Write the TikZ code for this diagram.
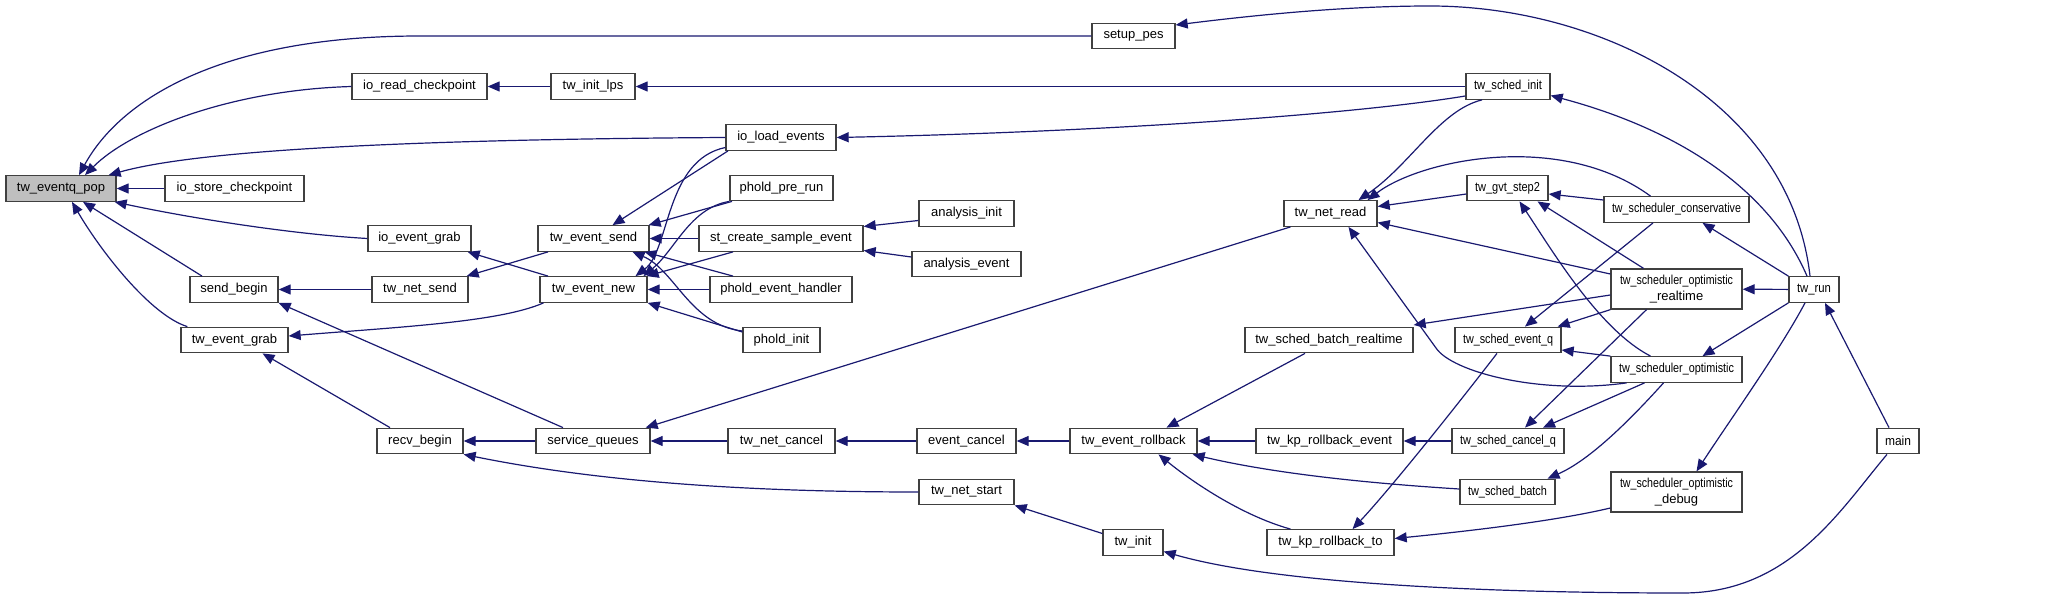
\documentclass[tikz,border=0pt]{standalone}
\usepackage{fontspec}
\usepackage{graphicx}
\setmainfont{Liberation Sans}
\usetikzlibrary{arrows.meta}
\definecolor{edgec}{RGB}{25,25,112}
\newsavebox\lblbox
\newdimen\fitdim
\newcommand\fitt[2]{\fitdim=#1pt\relax\advance\fitdim by -16pt\relax\sbox\lblbox{#2}\ifdim\wd\lblbox>\fitdim\relax\pgfmathsetmacro\fitratio{\fitdim/\wd\lblbox}\scalebox{\fitratio}[1]{\usebox\lblbox}\else\usebox\lblbox\fi}
\newcommand\bx[6][]{\node[box,minimum width=#5pt,#1] (#2) at (#3,#4) {\fitt{#5}{#6}};}
\begin{document}
\begin{tikzpicture}[x=1pt,y=-1pt,
 box/.style={draw=black!75, line width=1.3pt, fill=white, inner sep=0pt, minimum height=25.5pt, align=center, font=\fontsize{13pt}{15.5pt}\selectfont, text=black},
 e/.style={draw=edgec, line width=1.2pt, {Triangle[length=12pt,width=10pt]}-},
]
\useasboundingbox (0,0) rectangle (2045,599);
% nodes
\bx[fill=black!25]{ep}{61}{188.5}{110}{tw\_eventq\_pop}
\bx{isc}{234.5}{188.5}{139}{io\_store\_checkpoint}
\bx{irc}{419.5}{86.5}{135}{io\_read\_checkpoint}
\bx{ieg}{419.5}{238.5}{103}{io\_event\_grab}
\bx{sb}{234}{289.5}{88}{send\_begin}
\bx{teg}{234.5}{340}{107}{tw\_event\_grab}
\bx{rb}{420}{441}{86}{recv\_begin}
\bx{tns}{420}{289.5}{96}{tw\_net\_send}
\bx{til}{593}{86.5}{84}{tw\_init\_lps}
\bx{tes}{593.5}{238.5}{111}{tw\_event\_send}
\bx{ten}{593.5}{289.5}{107}{tw\_event\_new}
\bx{svq}{593}{441}{114}{service\_queues}
\bx{iole}{781}{137.5}{110}{io\_load\_events}
\bx{ppr}{781.5}{188}{103}{phold\_pre\_run}
\bx{stc}{781}{238.5}{164}{st\_create\_sample\_event}
\bx{peh}{781}{289.5}{142}{phold\_event\_handler}
\bx{pi}{781.5}{340}{77}{phold\_init}
\bx{tnc}{781.5}{441}{107}{tw\_net\_cancel}
\bx{ai}{966.5}{213.5}{95}{analysis\_init}
\bx{ae}{966.5}{264}{109}{analysis\_event}
\bx{ec}{966.5}{441}{99}{event\_cancel}
\bx{tnst}{966.5}{492}{95}{tw\_net\_start}
\bx{sp}{1133.5}{36}{83}{setup\_pes}
\bx{tinit}{1133}{542.5}{60}{tw\_init}
\bx{ter}{1133.5}{441}{127}{tw\_event\_rollback}
\bx{tnr}{1330.5}{213.5}{93}{tw\_net\_read}
\bx{tsbr}{1329}{340}{168}{tw\_sched\_batch\_realtime}
\bx{tkre}{1329.5}{441}{147}{tw\_kp\_rollback\_event}
\bx{tkrt}{1330.5}{542.5}{127}{tw\_kp\_rollback\_to}
\bx{tsi}{1508}{86.5}{84}{tw\_sched\_init}
\bx{tgs}{1507.5}{188}{81}{tw\_gvt\_step2}
\bx{tseq}{1508}{340}{106}{tw\_sched\_event\_q}
\bx{tscq}{1508}{441}{112}{tw\_sched\_cancel\_q}
\bx{tsb}{1507.5}{492}{95}{tw\_sched\_batch}
\bx{tsc}{1676.5}{209.5}{145}{tw\_scheduler\_conservative}
\node[box,minimum width=131pt,minimum height=40pt] (tsor) at (1676.5,289) {\fitt{129}{tw\_scheduler\_optimistic}\\\fitt{129}{\_realtime}};
\bx{tso}{1676.5}{369.5}{131}{tw\_scheduler\_optimistic}
\node[box,minimum width=131pt,minimum height=40pt] (tsod) at (1676.5,492) {\fitt{129}{tw\_scheduler\_optimistic}\\\fitt{129}{\_debug}};
\bx{trun}{1814}{289.5}{50}{tw\_run}
\bx{main}{1898}{441}{42}{main}
% edges into tw_eventq_pop
\draw[e] ([xshift=18pt]ep.north) .. controls (120,100) and (220,36) .. (420,36) -- (sp.west);
\draw[e] ([xshift=24pt]ep.north) .. controls (130,130) and (230,90) .. (irc.west);
\draw[e] ([xshift=-8pt]ep.north east) .. controls (170,158) and (300,140) .. (iole.west);
\draw[e] (ep) -- (isc);
\draw[e] ([xshift=-2pt]ep.south east) .. controls (190,218) and (290,234) .. (ieg.west);
\draw[e] ([xshift=22pt]ep.south) -- ([xshift=-32pt]sb.north);
\draw[e] ([xshift=11pt]ep.south) .. controls (100,250) and (150,315) .. ([xshift=7pt]teg.north west);
% second rank
\draw[e] (irc) -- (til);
\draw[e] (til) -- (tsi);
\draw[e] (iole.east) .. controls (1100,132) and (1350,115) .. ([yshift=-9.5pt]tsi.west);
\draw[e] ([yshift=11pt]sp.east) .. controls (1280,12) and (1360,6) .. (1430,6) .. controls (1600,6) and (1790,100) .. ([xshift=-4pt]trun.north);
\draw[e] (sb) -- (tns);
\draw[e] (sb.south east) -- ([xshift=-30pt]svq.north);
\draw[e] ([xshift=-2pt]tns.north east) -- ([xshift=-45.5pt]tes.south);
\draw[e] ([xshift=-4pt]ieg.south east) -- ([xshift=-45.5pt]ten.north);
\draw[e] ([yshift=4pt]teg.east) .. controls (400,327) and (500,322) .. ([xshift=-50pt]ten.south);
\draw[e] ([xshift=28pt]teg.south) -- ([xshift=-30pt]rb.north);
\draw[e] (rb) -- (svq);
\draw[e] (rb.south east) .. controls (580,478) and (720,492) .. (tnst.west);
% tw_event_send / tw_event_new
\draw[e] ([xshift=19pt]tes.north) -- ([xshift=-53pt]iole.south);
\draw[e] ([xshift=-1pt]tes.north east) -- ([xshift=-49.5pt]ppr.south);
\draw[e] (tes) -- (stc);
\draw[e] ([xshift=51pt]tes.south) -- ([xshift=-48pt]peh.north);
\draw[e] ([xshift=39pt]tes.south) .. controls (675,270) and (690,325) .. ([yshift=9pt]pi.west);
\draw[e] ([xshift=42pt]ten.north) .. controls (670,250) and (665,160) .. ([yshift=-10pt]iole.west);
\draw[e] ([xshift=50pt]ten.north) .. controls (675,250) and (690,208) .. (ppr.south west);
\draw[e] ([xshift=-1pt]ten.north east) -- ([xshift=-48pt]stc.south);
\draw[e] (ten) -- (peh);
\draw[e] (ten.south east) -- ([yshift=8pt]pi.west);
\draw[e] ([yshift=12pt]stc.east) -- ([yshift=-7pt]ai.west);
\draw[e] ([yshift=-12pt]stc.east) -- ([yshift=7pt]ae.west);
% service queues chain
\draw[e] ([xshift=-5pt]svq.north east) -- ([xshift=-40pt]tnr.south);
\draw[e] (svq) -- (tnc);
\draw[e] (tnc) -- (ec);
\draw[e] (ec) -- (ter);
\draw[e] ([xshift=33pt]ter.north) -- ([xshift=-24pt]tsbr.south);
\draw[e] (ter) -- (tkre);
\draw[e] ([xshift=-5pt]ter.south east) .. controls (1280,475) and (1380,484) .. ([yshift=3pt]tsb.west);
\draw[e] ([xshift=25pt]ter.south) .. controls (1190,480) and (1240,515) .. ([xshift=-40pt]tkrt.north);
\draw[e] (tnst.south east) -- ([yshift=9pt]tinit.west);
\draw[e] ([yshift=-9pt]tinit.east) .. controls (1280,585) and (1500,593) .. (1683,593) .. controls (1790,593) and (1840,510) .. ([xshift=-11pt]main.south);
\draw[e] (tkre) -- (tscq);
\draw[e] ([xshift=22pt]tkrt.north) .. controls (1380,500) and (1430,440) .. ([xshift=-11pt]tseq.south);
\draw[e] ([yshift=4pt]tkrt.east) .. controls (1480,530) and (1560,520) .. ([yshift=-16pt]tsod.west);
% tw_net_read
\draw[e] ([xshift=28pt]tnr.north) .. controls (1410,165) and (1440,110) .. ([xshift=-26pt]tsi.south);
\draw[e] ([xshift=37pt]tnr.north) .. controls (1420,160) and (1560,130) .. ([xshift=-26pt]tsc.north);
\draw[e] ([yshift=7pt]tnr.east) -- ([yshift=-6pt]tgs.west);
\draw[e] ([yshift=-9pt]tnr.east) -- ([yshift=15pt]tsor.west);
\draw[e] ([xshift=18pt]tnr.south) -- (1436,348) .. controls (1452,372) and (1540,395) .. ([xshift=-50pt]tso.south);
% schedulers
\draw[e] ([yshift=-9pt]tsi.east) .. controls (1680,130) and (1770,190) .. ([xshift=-7pt]trun.north);
\draw[e] ([yshift=-6pt]tgs.east) -- ([yshift=9.5pt]tsc.west);
\draw[e] ([xshift=30pt]tgs.south) -- ([xshift=-33pt]tsor.north);
\draw[e] ([xshift=12pt]tgs.south) .. controls (1555,255) and (1600,330) .. ([xshift=-26pt]tso.north);
\draw[e] ([xshift=26pt]tsc.south) -- (trun.north west);
\draw[e] ([xshift=17pt]tseq.north) -- ([xshift=-23.5pt]tsc.south);
\draw[e] ([yshift=15pt]tsbr.east) -- ([yshift=-6pt]tsor.west);
\draw[e] ([xshift=-4pt]tseq.north east) -- (tsor.south west);
\draw[e] ([yshift=-10pt]tseq.east) -- (tso.north west);
\draw[e] ([xshift=17pt]tscq.north) -- ([xshift=-30pt]tsor.south);
\draw[e] ([xshift=35pt]tscq.north) -- ([xshift=-32pt]tso.south);
\draw[e] ([xshift=40pt]tsb.north) .. controls (1590,460) and (1630,420) .. ([xshift=-13pt]tso.south);
\draw[e] ([xshift=26pt]tso.north) -- (trun.south west);
\draw[e] ([xshift=20pt]tsod.north) .. controls (1730,420) and (1780,350) .. ([xshift=-9pt]trun.south);
\draw[e] ([xshift=11pt]trun.south) -- ([xshift=-9pt]main.north);
\draw[e] (tsor) -- (trun);
\end{tikzpicture}
\end{document}
